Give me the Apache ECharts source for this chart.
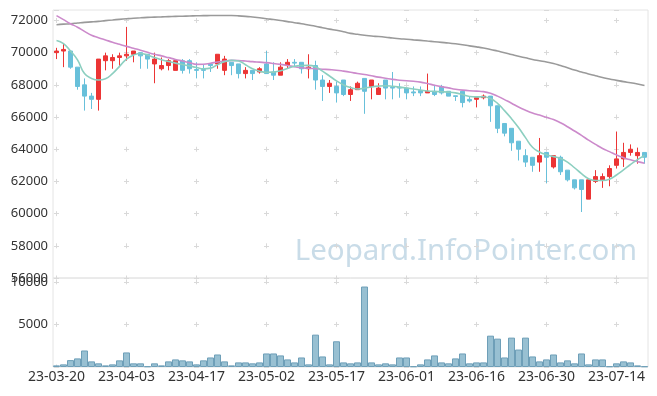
<!DOCTYPE html>
<html><head><meta charset="utf-8">
<script src="https://cdn.jsdelivr.net/npm/echarts@6/dist/echarts.min.js"></script>
<style>html,body{margin:0;padding:0;background:#fff}#c{width:657px;height:396px}</style>
</head><body><div id="c"></div>
<script>
const dates = [
'23-03-20','23-03-21','23-03-22','23-03-23','23-03-24','23-03-27','23-03-28','23-03-29','23-03-30','23-03-31',
'23-04-03','23-04-04','23-04-05','23-04-06','23-04-07','23-04-10','23-04-11','23-04-12','23-04-13','23-04-14',
'23-04-17','23-04-18','23-04-19','23-04-20','23-04-21','23-04-24','23-04-25','23-04-26','23-04-27','23-04-28',
'23-05-02','23-05-03','23-05-04','23-05-08','23-05-09','23-05-10','23-05-11','23-05-12','23-05-15','23-05-16',
'23-05-17','23-05-18','23-05-19','23-05-22','23-05-23','23-05-24','23-05-25','23-05-26','23-05-30','23-05-31',
'23-06-01','23-06-02','23-06-05','23-06-07','23-06-08','23-06-09','23-06-12','23-06-13','23-06-14','23-06-15',
'23-06-16','23-06-19','23-06-20','23-06-21','23-06-22','23-06-23','23-06-26','23-06-27','23-06-28','23-06-29',
'23-06-30','23-07-03','23-07-04','23-07-05','23-07-06','23-07-07','23-07-10','23-07-11','23-07-12','23-07-13',
'23-07-14','23-07-17','23-07-18','23-07-19','23-07-20'];

const opens = [
70000,70100,70100,69100,68000,67300,67100,69500,69500,69700,
69800,69900,70000,69900,69300,69000,69200,68900,69500,69500,
68950,68950,69300,69300,68900,69400,69300,68700,68900,68800,
69300,68800,68600,69200,69400,69400,69000,69200,68300,67900,
67900,68300,67400,67700,68400,67900,67400,68300,67850,67850,
67800,67560,67650,67500,67600,67900,67600,67320,67600,67100,
67100,67200,67300,66700,65600,65300,64500,63600,63500,63200,
63800,62900,63500,62700,62100,62100,60900,62000,62100,62300,
63000,63400,63800,63600,63800];
const closes = [
70100,70200,69100,67900,67300,67100,69600,69800,69700,69800,
69900,70100,69800,69600,69600,69200,69500,69500,68900,69000,
68900,68900,69200,69900,69600,69200,68700,68900,68700,69000,
68700,68600,69100,69400,69350,69000,69100,68300,67900,68100,
67500,67400,67700,68100,67600,68300,67800,67800,67800,67800,
67500,67500,67500,67600,67400,67500,67300,67280,66900,67000,
67200,67300,66700,65300,65000,64400,64000,63200,63000,63600,
63500,63600,62600,62100,61600,61500,62100,62300,62300,62800,
63400,63800,64000,63800,63500];
const lows = [
69600,69100,69000,67700,66400,66500,66400,68900,69000,69100,
69500,69400,69000,69000,68100,68900,68900,68900,68700,68700,
68400,68400,68800,69000,68600,68600,68400,68400,68300,68700,
68700,68300,68600,69000,69100,68700,68400,67700,67000,67500,
66900,67300,67000,67700,66200,67100,67400,67100,67100,67200,
67100,67300,67300,67500,67300,67400,67300,67000,66600,66900,
66600,67100,65700,65000,64800,63900,63300,62900,62600,62600,
61900,62800,62400,62000,61500,60100,60900,61900,61600,61700,
62800,62900,63600,63100,63100];
const highs = [
70300,70600,70100,69100,68400,67500,69600,70000,69900,70000,
71600,70100,70000,69900,70000,69700,69600,69500,69600,69600,
69400,69300,69300,69900,69800,69400,69300,69100,68900,69100,
70100,69400,69400,69600,69600,69400,69900,69500,68600,68300,
68200,68300,67900,68200,68400,68300,68100,68300,68800,68100,
67800,67900,67900,68700,68000,68000,67600,67320,67600,67300,
67200,67400,67300,66700,65600,65300,64500,64000,63500,64700,
63800,63600,63600,62700,62100,62100,62100,62700,62500,63000,
65100,64400,64300,64100,63800];

const volumes = [
190,310,810,1010,1940,660,430,190,310,780,
1710,430,430,80,430,190,660,890,780,660,
310,780,1120,1470,660,190,540,540,430,540,
1590,1590,1360,890,540,1120,310,3800,1240,310,
3020,540,430,540,9450,540,310,430,310,1120,
1120,80,310,890,1360,540,430,1010,1590,430,
540,540,3680,3330,1120,3450,2050,3450,1240,660,
890,1470,540,780,430,1590,310,890,890,80,
430,660,540,190,80];

const ma5 = [
70760,70560,70100,69550,68700,68400,68300,68380,68700,69150,
69600,69850,69950,69850,69700,69560,69450,69350,69260,69170,
69080,69000,69040,69250,69430,69520,69480,69250,69000,68850,
68780,68790,68880,69020,69150,69200,69210,69120,68850,68550,
68250,68000,67830,67740,67790,67870,67920,67940,67910,67860,
67800,67740,67680,67620,67590,67570,67550,67500,67400,67280,
67250,67260,67150,66850,66400,65900,65350,64720,64120,63830,
63660,63540,63430,63200,62850,62480,62170,62060,62060,62140,
62400,62720,63050,63350,63620];
const ma20 = [
72300,72050,71800,71580,71320,71080,70930,70790,70650,70520,
70390,70270,70150,70020,69900,69800,69690,69580,69480,69380,
69270,69280,69340,69420,69480,69520,69510,69480,69440,69410,
69380,69330,69270,69200,69120,69060,69030,69000,68970,68945,
68910,68850,68780,68700,68640,68560,68480,68410,68340,68290,
68250,68220,68170,68080,67980,67890,67810,67730,67670,67630,
67610,67580,67480,67300,67080,66860,66620,66420,66250,66120,
65980,65840,65640,65400,65130,64860,64570,64300,64050,63850,
63650,63480,63340,63230,63130];
const ma60 = [
71734,71770,71800,71840,71880,71910,71945,71990,72030,72070,
72107,72140,72165,72190,72210,72225,72240,72255,72265,72275,
72290,72300,72306,72310,72312,72305,72285,72255,72215,72170,
72110,72060,72000,71930,71860,71800,71720,71640,71550,71460,
71390,71300,71200,71140,71080,71030,71000,70960,70910,70865,
70830,70795,70760,70720,70680,70640,70600,70550,70490,70420,
70360,70290,70200,70100,70000,69890,69780,69680,69580,69500,
69420,69330,69200,69060,68920,68800,68680,68570,68460,68360,
68280,68200,68130,68050,67960];

const priceMin = 56000, priceMax = 72650, priceStep = 2000;
const volMin = 0, volMax = 10450, volStep = 5000;
const labelEvery = 10;

const W = 657, H = 396;
const gridLeft = 53, gridRight = 9, mainTop = 10, mainH = 268, volTop = 278, volH = 89;
const plotW = W - gridLeft - gridRight;
const catW = plotW / dates.length;

const candleData = dates.map((d, i) => [opens[i], closes[i], lows[i], highs[i]]);

// dash patterns that leave small "+" marks at the grid intersections
const crossLen = 5;
const hPeriod = catW * labelEvery;
const hOffset = ((hPeriod - (catW / 2 - crossLen / 2)) % hPeriod + hPeriod) % hPeriod;
function vDash(h, min, max, step) {
  const P = h * step / (max - min);
  const topTick = Math.floor(max / step) * step;
  const off0 = h * (max - topTick) / (max - min);
  const off = ((P - (off0 - crossLen / 2)) % P + P) % P;
  return { type: [crossLen, P - crossLen], dashOffset: off };
}
const crossColor = '#d9d9d9';
const mainV = vDash(mainH, priceMin, priceMax, priceStep);
const volV = vDash(volH, volMin, volMax, volStep);
const plain = v => String(v);

const font = 'Noto Sans';
const chart = echarts.init(document.getElementById('c'), null, { renderer: 'canvas' });
chart.setOption({
  animation: false,
  backgroundColor: '#fff',
  textStyle: { fontFamily: font },
  graphic: [{
    type: 'text', x: 637, y: 252, z: 0, silent: true,
    style: { text: 'Leopard.InfoPointer.com', fill: '#c9dce8', font: '29.5px "Noto Sans"', align: 'right', verticalAlign: 'middle' }
  }],
  grid: [
    { left: gridLeft, right: gridRight, top: mainTop, height: mainH, show: true, borderColor: '#e4e4e4', borderWidth: 1, outerBoundsMode: 'none' },
    { left: gridLeft, right: gridRight, top: volTop, height: volH, show: true, borderColor: '#e4e4e4', borderWidth: 1, outerBoundsMode: 'none' }
  ],
  xAxis: [
    { type: 'category', gridIndex: 0, data: dates, boundaryGap: true,
      axisLine: { show: false }, axisTick: { show: false }, axisLabel: { show: false },
      splitLine: { show: true, interval: labelEvery - 1, alignWithLabel: true,
        lineStyle: { color: crossColor, width: 1, type: mainV.type, dashOffset: mainV.dashOffset } } },
    { type: 'category', gridIndex: 1, data: dates, boundaryGap: true,
      axisLine: { show: false }, axisTick: { show: false },
      axisLabel: { interval: labelEvery - 1, fontSize: 14, color: '#333', margin: 3, fontFamily: font },
      splitLine: { show: true, interval: labelEvery - 1, alignWithLabel: true,
        lineStyle: { color: crossColor, width: 1, type: volV.type, dashOffset: volV.dashOffset } } }
  ],
  yAxis: [
    { type: 'value', gridIndex: 0, min: priceMin, max: priceMax, interval: priceStep,
      axisLine: { show: false }, axisTick: { show: false },
      axisLabel: { fontSize: 13, color: '#333', margin: 5, showMaxLabel: false, fontFamily: font, formatter: plain },
      splitLine: { show: true, lineStyle: { color: crossColor, width: 1, type: [crossLen, hPeriod - crossLen], dashOffset: hOffset } } },
    { type: 'value', gridIndex: 1, min: volMin, max: volMax, interval: volStep,
      axisLine: { show: false }, axisTick: { show: false },
      axisLabel: { fontSize: 13, color: '#333', margin: 5, showMaxLabel: false, showMinLabel: false, fontFamily: font, formatter: plain },
      splitLine: { show: true, lineStyle: { color: crossColor, width: 1, type: [crossLen, hPeriod - crossLen], dashOffset: hOffset } } }
  ],
  series: [
    { type: 'candlestick', xAxisIndex: 0, yAxisIndex: 0, data: candleData, barWidth: 5,
      itemStyle: { color: '#ec3535', color0: '#68c0da', borderColor: '#ec3535', borderColor0: '#68c0da', borderWidth: 1 } },
    { type: 'line', xAxisIndex: 0, yAxisIndex: 0, data: ma60, smooth: true, showSymbol: false,
      lineStyle: { color: '#9a9a9a', width: 1.6 } },
    { type: 'line', xAxisIndex: 0, yAxisIndex: 0, data: ma20, smooth: true, showSymbol: false,
      lineStyle: { color: '#cc8acb', width: 1.6 } },
    { type: 'line', xAxisIndex: 0, yAxisIndex: 0, data: ma5, smooth: true, showSymbol: false,
      lineStyle: { color: '#8ccfc0', width: 1.6 } },
    { type: 'bar', xAxisIndex: 1, yAxisIndex: 1, data: volumes, barWidth: '100%',
      itemStyle: { color: '#98c0d2', borderColor: '#6e9fb8', borderWidth: 1 } }
  ]
});
</script></body></html>
